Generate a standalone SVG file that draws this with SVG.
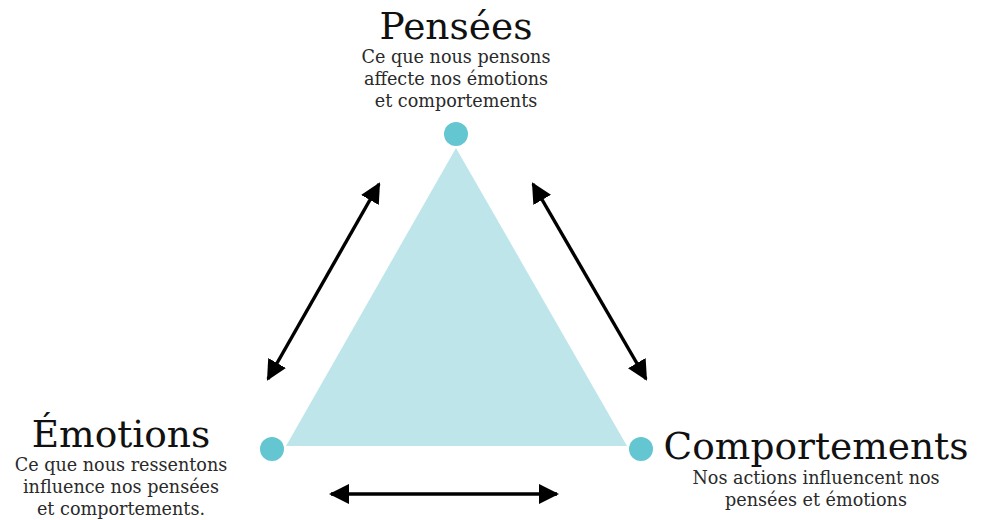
<svg xmlns="http://www.w3.org/2000/svg" width="989" height="520" viewBox="0 0 989 520">
<style>
.title{font-family:"DejaVu Serif","Liberation Serif",serif;font-size:37.5px;fill:#111;text-anchor:middle}
.sub{font-family:"DejaVu Serif","Liberation Serif",serif;font-size:17.6px;fill:#2a2a2a;text-anchor:middle}
.dot{fill:#64c6d0}
.arrow{stroke:#000;stroke-width:3.4;fill:none;marker-start:url(#ah);marker-end:url(#ah)}
</style>
<defs>
<marker id="ah" viewBox="0 0 10 10" refX="9" refY="5" markerWidth="6" markerHeight="6" orient="auto-start-reverse" markerUnits="strokeWidth">
<path d="M0,0 L10,5 L0,10 z" fill="#000"/>
</marker>
</defs>
<rect width="989" height="520" fill="#fff"/>
<polygon points="456,148 286,446 627,446" fill="#bee6ea"/>
<g id="connectors">
<line class="arrow" x1="268" y1="379" x2="379" y2="184"/>
<line class="arrow" x1="533" y1="184" x2="646" y2="379"/>
<line class="arrow" x1="331" y1="494" x2="557" y2="494"/>
</g>
<g id="pensees">
<circle class="dot" cx="456" cy="134" r="12"/>
<text class="title" x="456" y="39">Pensées</text>
<text class="sub" x="456" y="63">Ce que nous pensons</text>
<text class="sub" x="456" y="85">affecte nos émotions</text>
<text class="sub" x="456" y="107">et comportements</text>
</g>
<g id="emotions">
<circle class="dot" cx="272" cy="449" r="12"/>
<text class="title" x="121" y="447">Émotions</text>
<text class="sub" x="121" y="471">Ce que nous ressentons</text>
<text class="sub" x="121" y="493">influence nos pensées</text>
<text class="sub" x="121" y="515">et comportements.</text>
</g>
<g id="comportements">
<circle class="dot" cx="641" cy="449" r="12"/>
<text class="title" x="816" y="459">Comportements</text>
<text class="sub" x="816" y="484">Nos actions influencent nos</text>
<text class="sub" x="816" y="506">pensées et émotions</text>
</g>
</svg>
